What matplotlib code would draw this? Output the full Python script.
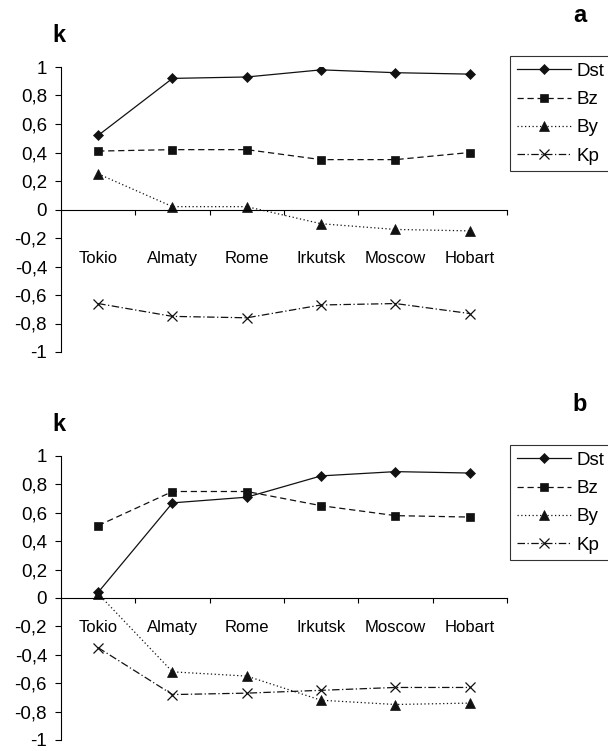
import matplotlib.pyplot as plt
import numpy as np

plt.rcParams['font.family'] = ['Liberation Sans', 'DejaVu Sans']

cities = ["Tokio", "Almaty", "Rome", "Irkutsk", "Moscow", "Hobart"]

# panel a
dst_a = [0.52, 0.92, 0.93, 0.98, 0.96, 0.95]
bz_a = [0.41, 0.42, 0.42, 0.35, 0.35, 0.40]
by_a = [0.25, 0.02, 0.02, -0.10, -0.14, -0.15]
kp_a = [-0.66, -0.75, -0.76, -0.67, -0.66, -0.73]

# panel b
dst_b = [0.04, 0.67, 0.71, 0.86, 0.89, 0.88]
bz_b = [0.51, 0.75, 0.75, 0.65, 0.58, 0.57]
by_b = [0.03, -0.52, -0.55, -0.72, -0.75, -0.74]
kp_b = [-0.35, -0.68, -0.67, -0.65, -0.63, -0.63]

yticks = np.round(np.arange(-1, 1.01, 0.2), 1) + 0.0
ylabels = [("%g" % v).replace(".", ",") for v in yticks]

styles = [
    ("Dst", "-", "D", 5),
    ("Bz", (0, (5, 3)), "s", 6),
    ("By", (0, (1, 2)), "^", 6.5),
    ("Kp", (0, (6, 2, 1, 2)), "x", 7),
]

fig = plt.figure(figsize=(6.08, 7.51), dpi=100)

panels = [
    ([dst_a, bz_a, by_a, kp_a], [61/608, 1-352/751, 446/608, 285/751], "a", 30),
    ([dst_b, bz_b, by_b, kp_b], [61/608, 1-740/751, 446/608, 284/751], "b", 16),
]

x = np.arange(len(cities))
for series, rect, letter, pad in panels:
    ax = fig.add_axes(rect)
    for vals, (name, ls, mk, ms) in zip(series, styles):
        ax.plot(x, vals, linestyle=ls, marker=mk, markersize=ms, color="#111111",
                linewidth=0.9, label=name, markeredgewidth=0.9 if mk == "x" else 0.5)
    ax.set_xlim(-0.5, 5.5)
    ax.set_ylim(-1, 1)
    ax.spines['top'].set_visible(False)
    ax.spines['right'].set_visible(False)
    ax.spines['bottom'].set_position(('data', 0))
    ax.spines['left'].set_linewidth(0.8)
    ax.spines['bottom'].set_linewidth(0.8)
    ax.set_yticks(yticks)
    ax.set_yticklabels(ylabels, fontsize=13.5)
    ax.tick_params(axis='y', length=4, width=0.8, pad=6)
    ax.set_xticks(np.arange(0.5, 6, 1))
    ax.set_xticklabels([])
    ax.tick_params(axis='x', which='major', length=3.5, width=0.8, direction='out')
    ax.set_xticks(x, minor=True)
    ax.set_xticklabels(cities, minor=True, fontsize=12)
    ax.tick_params(axis='x', which='minor', length=0, pad=pad)
    ax.patch.set_visible(False)

    pos = ax.get_position()
    fig.text(59/608, pos.y1 + 0.042, "k", fontsize=17, fontweight="bold",
             ha="center", va="center")
    fig.text(580/608, pos.y1 + 0.069, letter, fontsize=17, fontweight="bold",
             ha="center", va="center")

    leg = ax.legend(loc="upper left", bbox_to_anchor=(510/608, pos.y1 + 11/751),
                    bbox_transform=fig.transFigure, fontsize=13.5, frameon=True,
                    fancybox=False, edgecolor="black", handlelength=2.9,
                    handletextpad=0.3, labelspacing=0.6, borderpad=0.35,
                    borderaxespad=0)
    leg.get_frame().set_linewidth(0.8)

fig.savefig("out.png", dpi=100)
